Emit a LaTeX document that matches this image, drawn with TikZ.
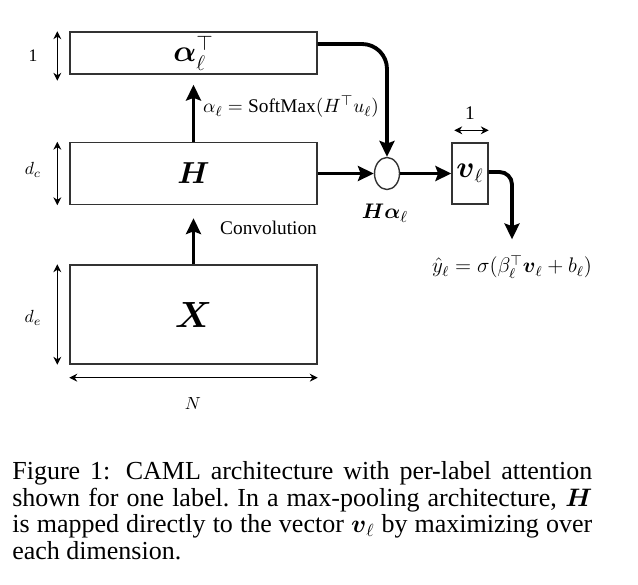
\documentclass[tikz,border=0pt]{standalone}
\usepackage{amsmath}
\usepackage{fontspec}
\setmainfont{Liberation Serif}
\usetikzlibrary{positioning, shapes.geometric, arrows.meta}

\begin{document}
\begin{tikzpicture}[x=0.02cm, y=-0.02cm,
    box/.style={draw=black!80, line width=0.8pt, inner sep=0pt, minimum width=4.94cm},
    flow/.style={line width=2.2pt, -{Stealth[length=9pt, width=8.5pt, inset=1.5pt]}},
    dim/.style={line width=0.6pt, {Stealth[length=4.5pt, width=4.5pt]}-{Stealth[length=4.5pt, width=4.5pt]}},
    every node/.style={font=\fontsize{11}{13}\selectfont}]
    \useasboundingbox (0,0) rectangle (638,584);

    % the three matrices
    \node[box, minimum height=0.84cm, font=\fontsize{17}{19}\selectfont] (alpha) at (193.5,53) {$\boldsymbol{\alpha}_\ell^{\top}$};
    \node[box, minimum height=1.24cm, font=\fontsize{17}{19}\selectfont] (H) at (193.5,173.5) {$\boldsymbol{H}$};
    \node[box, minimum height=1.98cm, font=\fontsize{21}{23}\selectfont] (X) at (193.5,314.5) {$\boldsymbol{X}$};

    % sizes
    \draw[dim] ([xshift=-0.24cm]alpha.north west) -- ([xshift=-0.24cm, yshift=-0.12cm]alpha.south west);
    \node[font=\fontsize{10}{12}\selectfont] (dimalpha) at (33,56) {1};
    \draw[dim] ([xshift=-0.24cm]H.north west) -- ([xshift=-0.24cm]H.south west);
    \node[font=\fontsize{10}{12}\selectfont] (dimH) at (33,170) {$d_c$};
    \draw[dim] ([xshift=-0.24cm]X.north west) -- ([xshift=-0.24cm]X.south west);
    \node[font=\fontsize{10}{12}\selectfont] (dimX) at (33,318) {$d_e$};
    \draw[dim] ([yshift=-0.26cm]X.south west) -- ([yshift=-0.26cm]X.south east);
    \node[font=\fontsize{10}{12}\selectfont] (dimN) at (193,403) {$N$};

    % attention
    \draw[flow, shorten >=0.26cm] (X.north) -- (H.south);
    \node[anchor=west] (conv) at (214,228) {Convolution};
    \draw[flow, shorten >=0.2cm] (H.north) -- (alpha.south);
    \node[anchor=west] (softmax) at (197,107) {$\alpha_\ell = \text{SoftMax}(H^{\top}u_\ell)$};

    \node[draw=black!80, line width=0.8pt, ellipse, minimum width=0.5cm, minimum height=0.64cm, inner sep=0pt] (prod) at (387,173.5) {};
    \node[font=\fontsize{13}{15}\selectfont] (prodlabel) at (385,213) {$\boldsymbol{H\alpha}_\ell$};
    \draw[flow] (H.east) -- (prod.west);
    \draw[flow, rounded corners=0.5cm] ([yshift=0.18cm]alpha.east) -| (prod.north);

    % label vector and prediction
    \node[box, minimum width=0.72cm, minimum height=1.22cm, font=\fontsize{16}{18}\selectfont] (v) at (470,173.5) {$\boldsymbol{v}_\ell$};
    \draw[flow] (prod.east) -- (v.west);
    \draw[dim] ([yshift=0.24cm, xshift=0.06cm]v.north west) -- ([yshift=0.24cm]v.north east);
    \node (vwidth) at (470,113) {1};
    \node[font=\fontsize{12}{14}\selectfont] (yhat) at (512,267) {$\hat{y}_\ell = \sigma(\beta_\ell^{\top}\boldsymbol{v}_\ell + b_\ell)$};
    \draw[flow, rounded corners=0.25cm, shorten >=0.2cm] ([yshift=0.03cm]v.east) -| (yhat.north);

    % caption
    \node[anchor=north west, text width=11.6cm, align=justify, inner sep=0pt, font={\fontsize{14.8}{15.2}\selectfont\lineskiplimit=-100pt}] (caption) at (12,461) {Figure 1: CAML architecture with per-label attention\linebreak shown for one label.\@ In a max-pooling architecture, $\boldsymbol{H}$\linebreak is mapped directly to the vector $\boldsymbol{v}_\ell$ by maximizing over\linebreak each dimension.};
\end{tikzpicture}
\end{document}
